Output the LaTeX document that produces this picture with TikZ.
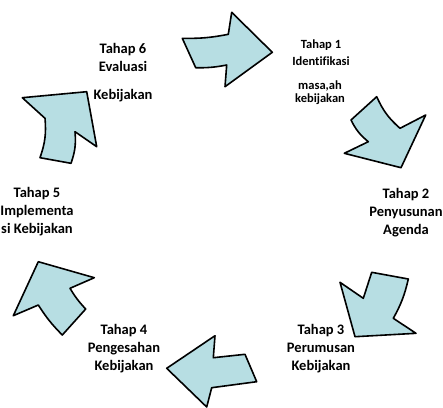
\documentclass[tikz,border=0pt]{standalone}
\usepackage{fontspec}
\setmainfont{Carlito}[Ligatures=NoCommon]
\definecolor{panahbiru}{RGB}{183,222,227}
\begin{document}
\begin{tikzpicture}[x=1pt,y=-1pt,
        panah/.style={draw=black,fill=panahbiru,line width=1.6pt,line join=round},
        tahap/.style={align=center,font=\bfseries\fontsize{14.5}{18}\selectfont,inner sep=0pt},
        tahapkecil/.style={align=center,font=\bfseries\fontsize{12.5}{17}\selectfont,inner sep=0pt}]
            \useasboundingbox (0,0) rectangle (443,407);
            % panah 1 (atas)
            \draw[panah] (182.3,38.3) to[bend right=6] (228.3,34.3) -- (231.7,12.3) -- (272.3,52.3)
                -- (225,86.7) -- (226.7,65) to[bend left=6] (195.7,67.7) -- cycle;
            % panah 2 (kanan atas)
            \draw[panah] (376.7,96.7) to[bend right=12] (400,128.3) -- (425.7,115) -- (401,167.7)
                -- (344.3,153.3) -- (368.3,141.7) to[bend left=12] (351,120) -- cycle;
            % panah 3 (kanan bawah)
            \draw[panah] (340,282.3) -- (363.3,298.3) -- (371.7,272.3) -- (408.3,279)
                to[bend left=8] (393.3,318.3) -- (416,333.3) -- (355,336.7) -- cycle;
            % panah 4 (bawah)
            \draw[panah] (166.7,368.3) -- (215,335.7) -- (213.3,357.7) -- (245,354.3)
                -- (256.7,381.7) -- (211.7,387.7) -- (206.7,407) -- cycle;
            % panah 5 (kiri bawah)
            \draw[panah] (13.3,315.7) -- (38.3,261.7) -- (94.3,277.7) -- (70,288.3)
                to[bend right=6] (85.7,309) -- (62.3,335) to[bend left=6] (38.3,305) -- cycle;
            % panah 6 (kiri atas)
            \draw[panah] (22.3,97.7) -- (86.7,91.7) -- (96.7,146.7) -- (75,131.7)
                to[bend left=12] (71,163.3) -- (40,157.7) to[bend right=12] (45,118.3) -- cycle;
            % label
            \node[tahapkecil] (t1) at (321,52.5) {Tahap 1\\Identifikasi};
            \node[tahapkecil,font=\bfseries\fontsize{12.5}{13}\selectfont] (t1b) at (320,92.5) {masa,ah\\kebijakan};
            \node[tahap] (t2) at (406,213) {Tahap 2\\Penyusunan\\Agenda};
            \node[tahap] (t3) at (321,349) {Tahap 3\\Perumusan\\Kebijakan};
            \node[tahap] (t4) at (124,349) {Tahap 4\\Pengesahan\\Kebijakan};
            \node[tahap] (t5) at (37,212) {Tahap 5\\Implementa\\si Kebijakan};
            \node[tahap] (t6) at (123,57) {Tahap 6\\Evaluasi};
            \node[tahap] (t6b) at (123,96) {Kebijakan};
        \end{tikzpicture}
\end{document}
